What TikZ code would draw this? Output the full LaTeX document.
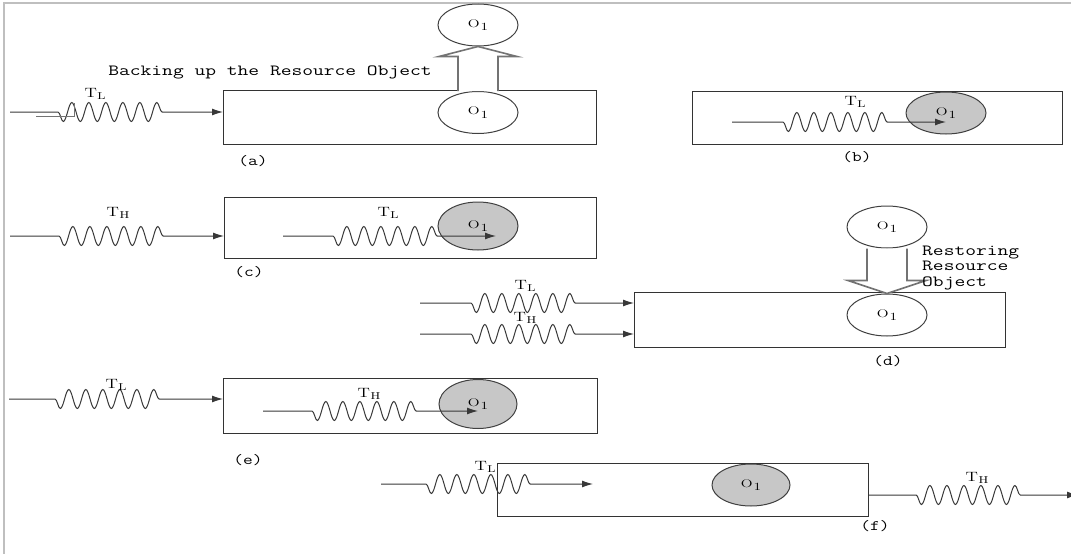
\documentclass[tikz,border=0pt]{standalone}
\usepackage{graphicx}
\usetikzlibrary{shapes.geometric,arrows.meta,decorations.pathmorphing,calc}
\newcommand\wx[1]{\scalebox{1.35}[1]{#1}}
\newcommand\wl[1]{\scalebox{1.3}[1]{#1}}
\newcommand\Tsub[1]{\wl{T\kern0.3pt\raisebox{-2.5pt}{\fontsize{10}{10}\selectfont #1}}}
\newcommand\Oone{\scalebox{1.4}[1]{O\kern0.6pt\raisebox{-3.5pt}{1}}}
\begin{document}
\begin{tikzpicture}[x=1pt,y=-1pt,
  box/.style={draw=black!80, line width=1.1pt, inner sep=0, anchor=north west},
  obj/.style={ellipse, draw=black!75, line width=1pt, minimum width=80pt, minimum height=42pt, inner sep=0, font=\fontsize{11}{12}\selectfont},
  objf/.style={obj, fill=black!22},
  lbl/.style={inner sep=0, font=\fontsize{13.5}{14}\selectfont},
  sublab/.style={inner sep=0, font=\ttfamily\fontsize{14.5}{15}\selectfont},
  bigtxt/.style={inner sep=0, font=\ttfamily\fontsize{15.5}{15.5}\selectfont, align=left},
  wv/.style 2 args={draw=black!78, line width=1pt, -{Latex[length=11pt,width=7pt]}, decorate,
     decoration={snake, amplitude=-9.5pt, segment length=17pt, pre length=#1, post length=#2}},
  blk/.style={draw=black!55, line width=1.6pt, fill=white, line join=miter}]
\useasboundingbox (0,0) rectangle (1071,554);
\draw[black!25, line width=1.2pt] (4,554) -- (4,3) -- (1071,3);

% ---------- (a)
\node[box, minimum width=373pt, minimum height=54pt] (boxa) at (223,90) {};
\node[obj] (ca1) at (478,112.5) {\Oone};
\node[obj] (ca2) at (478,25) {\Oone};
\draw[blk] ($(ca1.north)+(-20,0)$) -- ($(ca2.south)+(-20,10)$) -- ($(ca2.south)+(-39,10)$) -- (ca2.south)
  -- ($(ca2.south)+(39,10)$) -- ($(ca2.south)+(20,10)$) -- ($(ca1.north)+(20,0)$);
\node[bigtxt] (tback) at (270,72) {\wx{Backing up the Resource Object}};
\coordinate (sa) at (10,112);
\draw[wv={48}{55}] (sa) -- (sa -| boxa.west);
\node[lbl] (tla) at (95,94) {\Tsub{L}};
\draw[black!55, line width=0.5pt] (36,116) -- (74,116) -- (74,103);
\node[sublab] (la) at (253,161) {\wl{(a)}};

% ---------- (b)
\node[box, minimum width=370pt, minimum height=53pt] (boxb) at (692,91) {};
\node[objf] (cb) at (946,113) {\Oone};
\coordinate (sb) at (732,122);
\draw[wv={51}{53}] (sb) -- (sb -| cb.center);
\node[lbl] (tlb) at (855,102) {\Tsub{L}};
\node[sublab] (lb) at (857,157) {\wl{(b)}};

% ---------- (c)
\node[box, minimum width=372pt, minimum height=61pt] (boxc) at (224,197) {};
\node[objf, minimum height=48pt] (cc) at (478,226) {\Oone};
\coordinate (sc) at (10,236);
\draw[wv={49}{55}] (sc) -- (sc -| boxc.west);
\node[lbl] (thc) at (118,213) {\Tsub{H}};
\coordinate (sc2) at (283,236);
\coordinate (ec2) at (496,236);
\draw[wv={50}{53}] (sc2) -- (ec2);
\node[lbl] (tlc) at (388,213) {\Tsub{L}};
\node[sublab] (lc) at (249,272) {\wl{(c)}};

% ---------- (d)
\node[box, minimum width=371pt, minimum height=55pt] (boxd) at (634,292) {};
\node[obj] (cd1) at (887,315) {\Oone};
\node[obj] (cd2) at (887,227) {\Oone};
\draw[blk] ($(cd2.south)+(-20,0)$) -- ($(cd1.north)+(-20,-13)$) -- ($(cd1.north)+(-39,-13)$) -- (cd1.north)
  -- ($(cd1.north)+(39,-13)$) -- ($(cd1.north)+(20,-13)$) -- ($(cd2.south)+(20,0)$);
\node[bigtxt, anchor=west] (trest) at (922,268) {\wx{Restoring}\\\wx{Resource}\\\wx{Object}};
\coordinate (sd1) at (420,303);
\coordinate (sd2) at (420,334);
\draw[wv={51}{53}] (sd1) -- (sd1 -| boxd.west);
\draw[wv={51}{53}] (sd2) -- (sd2 -| boxd.west);
\node[lbl] (tld) at (525,286) {\Tsub{L}};
\node[lbl] (thd) at (525,318) {\Tsub{H}};
\node[sublab] (ld) at (888,361) {\wl{(d)}};

% ---------- (e)
\node[box, minimum width=374pt, minimum height=55pt] (boxe) at (223,378) {};
\node[objf, minimum width=78pt, minimum height=49pt] (ce) at (478,404) {\Oone};
\coordinate (se) at (9,399);
\draw[wv={46}{58}] (se) -- (se -| boxe.west);
\node[lbl] (tle) at (116,385) {\Tsub{L}};
\coordinate (se2) at (263,411);
\draw[wv={49}{56}] (se2) -- (se2 -| ce.center);
\node[lbl] (the) at (369,394) {\Tsub{H}};
\node[sublab] (le) at (248,460) {\wl{(e)}};

% ---------- (f)
\node[box, minimum width=371pt, minimum height=53pt] (boxf) at (497,463) {};
\node[objf, minimum width=78pt] (cf) at (751,485) {\Oone};
\coordinate (sf) at (381,484);
\coordinate (ef) at (593,484);
\draw[wv={45}{57}] (sf) -- (ef);
\node[lbl] (tlf) at (485,467) {\Tsub{L}};
\coordinate (ef2) at (1078,495);
\draw[wv={47}{53}] (ef2 -| boxf.east) -- (ef2);
\node[lbl] (thf) at (977,478) {\Tsub{H}};
\node[sublab] (lf) at (875,526) {\wl{(f)}};
\end{tikzpicture}
\end{document}
